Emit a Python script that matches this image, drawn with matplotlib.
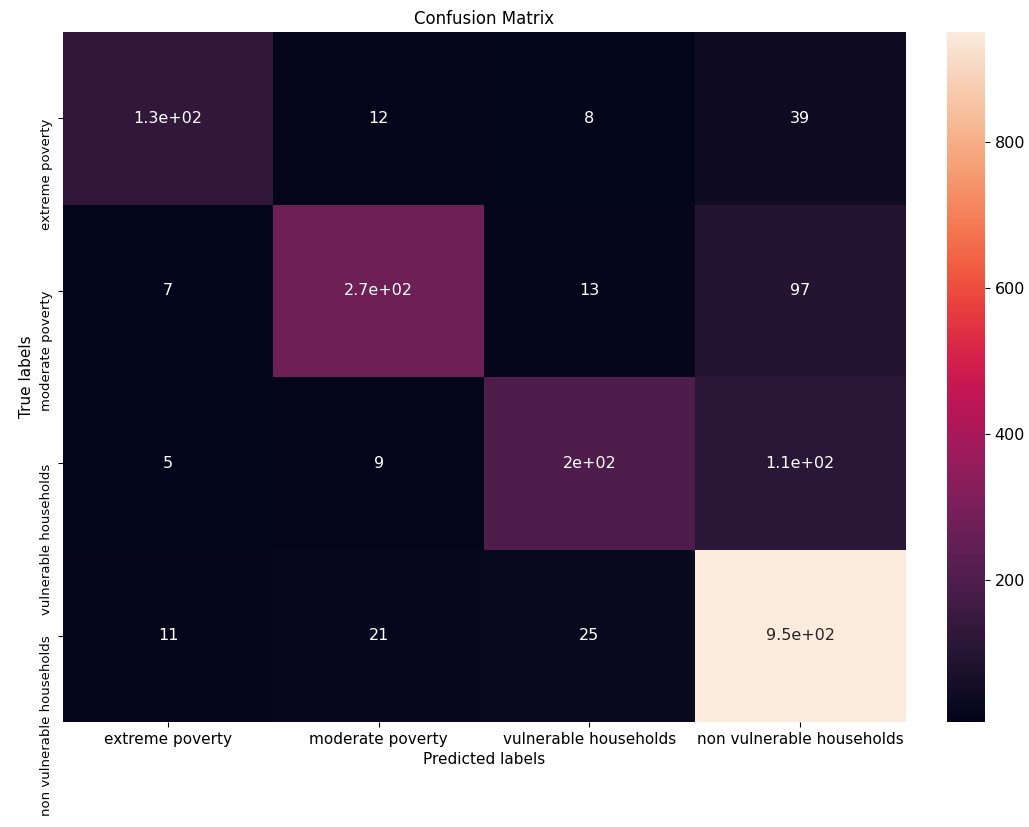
import numpy as np
import matplotlib
matplotlib.use("Agg")
import matplotlib.pyplot as plt
import seaborn as sns

class_names = ["extreme poverty", "moderate poverty", "vulnerable households", "non vulnerable households"]
row_extreme = [130, 12, 8, 39]
row_moderate = [7, 270, 13, 97]
row_vulnerable = [5, 9, 200, 110]
row_non_vulnerable = [11, 21, 25, 950]

cm = np.array([row_extreme, row_moderate, row_vulnerable, row_non_vulnerable])

plt.rcParams['font.family'] = ['DejaVu Sans']

fig = plt.figure(figsize=(10.29, 8.27), dpi=100)
ax = fig.add_axes([0.061, 0.127, 0.819, 0.834])
cax = fig.add_axes([0.920, 0.127, 0.037, 0.834])

sns.heatmap(cm, annot=True, ax=ax, cbar_ax=cax, cmap="rocket",
            annot_kws={"fontsize": 11.5})

ax.set_title("Confusion Matrix", fontsize=12)
ax.set_xlabel("Predicted labels", fontsize=11)
ax.set_ylabel("True labels", fontsize=11)
ax.set_xticklabels(class_names, fontsize=11)
ax.set_yticklabels(class_names, fontsize=9.5, rotation=90, va="top")
cax.tick_params(labelsize=11.5)

fig.savefig("out.png", dpi=100)
